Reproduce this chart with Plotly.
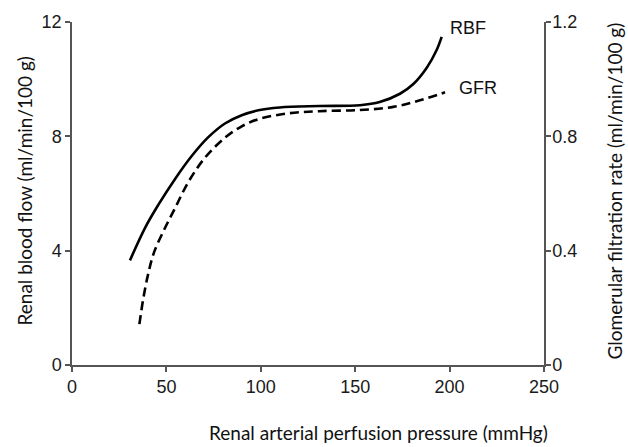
import plotly.graph_objects as go

# Data
rbf_pressure = [30.7, 38.7, 45.7, 54.6, 63.4, 72.2, 81, 89.9, 98.7, 110, 131, 152.5, 163, 173.7, 180.8, 187.9, 193.2, 195.8]
rbf_flow = [3.66, 4.80, 5.60, 6.51, 7.31, 7.97, 8.45, 8.74, 8.91, 9.01, 9.06, 9.09, 9.20, 9.49, 9.83, 10.40, 11.03, 11.48]

gfr_pressure = [35.7, 37.8, 40.4, 43.5, 49.3, 54.6, 61.6, 70.4, 81, 89.9, 98.7, 114, 131, 152.5, 170.2, 184.3, 197.6]
gfr_rate = [0.143, 0.234, 0.320, 0.395, 0.480, 0.549, 0.640, 0.725, 0.795, 0.835, 0.860, 0.880, 0.888, 0.892, 0.903, 0.926, 0.954]

x_ticks = [0, 50, 100, 150, 200, 250]
left_ticks = [0, 4, 8, 12]
right_ticks = [0, 0.4, 0.8, 1.2]
right_tick_labels = ["0", "0.4", "0.8", "1.2"]

tick_font = dict(family="Liberation Sans, Arial, sans-serif", size=18, color="#1a1a1a")
title_font = dict(family="Lato, sans-serif", size=19, color="#111")
axis_color = "#555"

fig = go.Figure()
fig.add_trace(go.Scatter(
    x=rbf_pressure, y=rbf_flow, mode="lines", name="RBF",
    line=dict(color="black", width=2.6, shape="spline", smoothing=1.0),
    yaxis="y"))
fig.add_trace(go.Scatter(
    x=gfr_pressure, y=gfr_rate, mode="lines", name="GFR",
    line=dict(color="black", width=2.6, dash="9px,5px", shape="spline", smoothing=1.0),
    yaxis="y2"))

fig.update_layout(
    width=628, height=447,
    margin=dict(l=72, r=84, t=15, b=82),
    plot_bgcolor="white", paper_bgcolor="white",
    showlegend=False,
    xaxis=dict(range=[0, 250], tickvals=x_ticks, showgrid=False, zeroline=False,
               showline=True, linecolor=axis_color, linewidth=1.5,
               ticks="outside", ticklen=5, tickcolor=axis_color, tickwidth=1.5,
               tickfont=tick_font),
    yaxis=dict(range=[0, 12], tickvals=left_ticks, showgrid=False, zeroline=False,
               showline=True, linecolor=axis_color, linewidth=1.5,
               ticks="outside", ticklen=5, tickcolor=axis_color, tickwidth=1.5,
               tickfont=tick_font),
    yaxis2=dict(range=[0, 1.2], tickvals=right_ticks, ticktext=right_tick_labels,
                overlaying="y", side="right", showgrid=False, zeroline=False,
                showline=True, linecolor=axis_color, linewidth=1.5,
                ticks="outside", ticklen=5, tickcolor=axis_color, tickwidth=1.5,
                ticklabelstandoff=-2,
                tickfont=tick_font),
)

# axis titles placed by pixel position, converted to paper coordinates
W, H = 628, 447
L, R, T, B = 72, 84, 15, 82
pw, ph = W - L - R, H - T - B


def add_title(px, py, text, angle):
    fig.add_annotation(x=(px - L) / pw, y=(H - B - py) / ph, xref="paper", yref="paper",
                       text=text, showarrow=False, textangle=angle, font=title_font,
                       xanchor="center", yanchor="middle")


add_title(25, 188, "Renal blood flow (ml/min/100 g)", -90)
add_title(378, 434, "Renal arterial perfusion pressure (mmHg)", 0)
add_title(615, 188, "Glomerular filtration rate (ml/min/100 g)", -90)

label_font = dict(family="Liberation Sans, Arial, sans-serif", size=18, color="#111")
fig.add_annotation(x=210, y=11.8, text="RBF", showarrow=False, font=label_font, xanchor="center")
fig.add_annotation(x=215, y=9.68, text="GFR", showarrow=False, font=label_font, xanchor="center")

fig.write_html("out.html")
